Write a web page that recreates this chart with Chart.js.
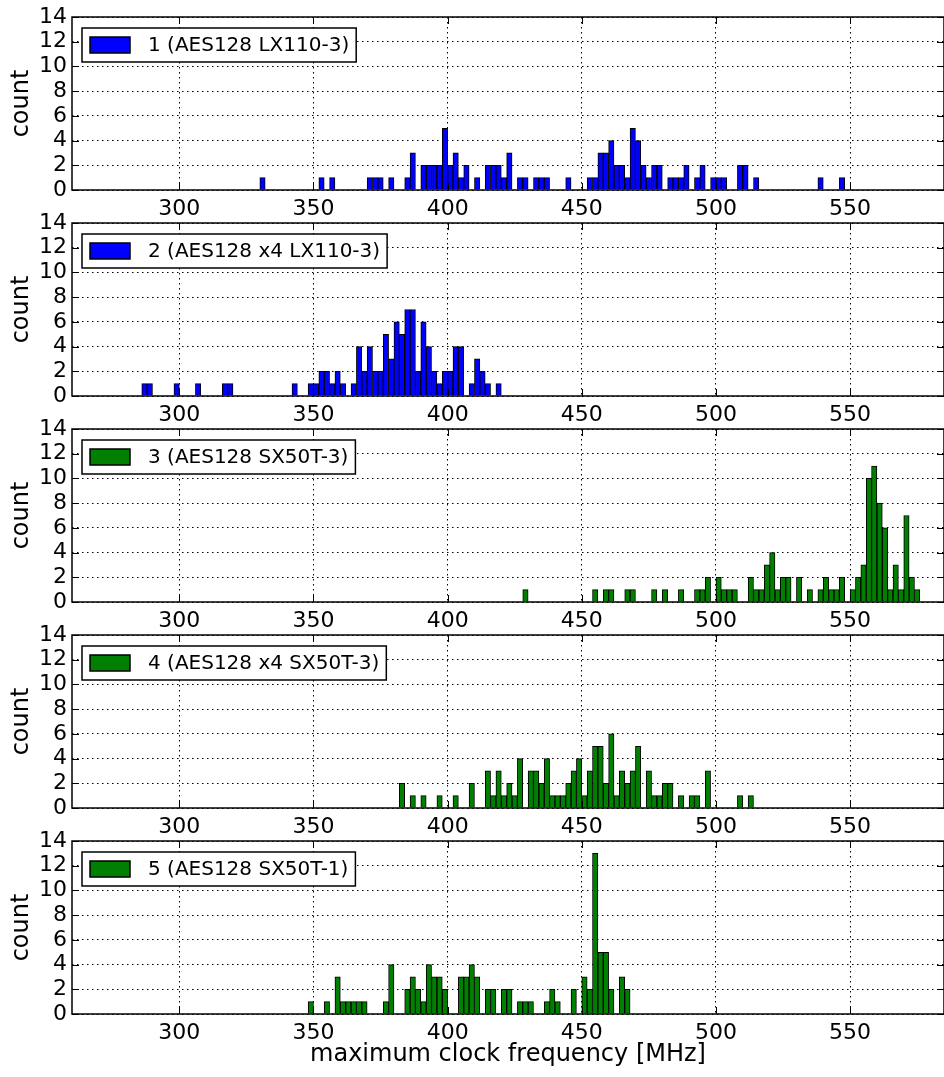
<!DOCTYPE html>
<html>
<head>
<meta charset="utf-8">
<script src="https://cdn.jsdelivr.net/npm/chart.js@4.4.1/dist/chart.umd.min.js"></script>
<style>
  html, body { margin: 0; padding: 0; background: #fff; }
  #wrap { position: relative; width: 944px; height: 1077px; overflow: hidden; }
  #wrap canvas { position: absolute; left: 0; }
</style>
</head>
<body>
<div id="wrap"></div>
<script>
// 2 MHz histogram bins: bin centre (MHz) and count, empty bins left out
const labels = [
  '1 (AES128 LX110-3)',
  '2 (AES128 x4 LX110-3)',
  '3 (AES128 SX50T-3)',
  '4 (AES128 x4 SX50T-3)',
  '5 (AES128 SX50T-1)'
];

const freq1 = [331, 353, 357, 371, 373, 375, 379, 385, 387, 391, 393, 395, 397, 399, 401, 403, 405, 407, 411, 415, 417, 419, 421, 423, 427, 429, 433, 435, 437,
  445, 453, 455, 457, 459, 461, 463, 465, 467, 469, 471, 473, 475, 477, 479, 483, 485, 487, 489, 493, 495, 499, 501, 503, 509, 511, 515, 539, 547];
const count1 = [1, 1, 1, 1, 1, 1, 1, 1, 3, 2, 2, 2, 2, 5, 2, 3, 1, 2, 1, 2, 2, 2, 1, 3, 1, 1, 1, 1, 1,
  1, 1, 1, 3, 3, 4, 2, 2, 1, 5, 4, 2, 1, 2, 2, 1, 1, 1, 2, 1, 2, 1, 1, 1, 2, 2, 1, 1, 1];

const freq2 = [287, 289, 299, 307, 317, 319, 343, 349, 351, 353, 355, 357, 359, 361, 365, 367, 369, 371, 373, 375, 377, 379, 381, 383, 385, 387,
  389, 391, 393, 395, 397, 399, 401, 403, 405, 409, 411, 413, 415, 419];
const count2 = [1, 1, 1, 1, 1, 1, 1, 1, 1, 2, 2, 1, 2, 1, 1, 4, 2, 4, 2, 2, 5, 3, 6, 5, 7, 7,
  2, 6, 4, 2, 1, 2, 2, 4, 4, 1, 3, 2, 1, 1];

const freq3 = [429, 455, 459, 461, 467, 469, 477, 481, 487, 493, 495, 497, 501, 503, 505, 507, 513, 515, 517, 519, 521, 523, 525, 527, 531, 535,
  539, 541, 543, 545, 547, 551, 553, 555, 557, 559, 561, 563, 565, 567, 569, 571, 573, 575];
const count3 = [1, 1, 1, 1, 1, 1, 1, 1, 1, 1, 1, 2, 2, 1, 1, 1, 2, 1, 1, 3, 4, 1, 2, 2, 2, 1,
  1, 2, 1, 1, 2, 1, 2, 3, 10, 11, 8, 6, 1, 3, 1, 7, 2, 1];

const freq4 = [383, 387, 391, 397, 403, 409, 415, 417, 419, 421, 423, 425, 427, 431, 433, 435, 437, 439, 441, 443, 445, 447, 449, 451, 453, 455,
  457, 459, 461, 463, 465, 467, 469, 471, 475, 477, 479, 481, 483, 487, 491, 493, 497, 509, 513];
const count4 = [2, 1, 1, 1, 1, 2, 3, 1, 3, 1, 2, 1, 4, 3, 3, 2, 4, 1, 1, 1, 2, 3, 4, 1, 3, 5,
  5, 2, 6, 1, 3, 2, 3, 5, 3, 1, 1, 2, 2, 1, 1, 1, 3, 1, 1];

const freq5 = [349, 355, 359, 361, 363, 365, 367, 369, 377, 379, 385, 387, 389, 391, 393, 395, 397, 399, 405, 407, 409, 411, 415, 417, 421, 423,
  427, 429, 431, 437, 439, 441, 447, 451, 453, 455, 457, 459, 461, 465, 467];
const count5 = [1, 1, 3, 1, 1, 1, 1, 1, 1, 4, 2, 3, 2, 1, 4, 3, 3, 2, 3, 3, 4, 3, 2, 2, 2, 2,
  1, 1, 1, 1, 2, 1, 2, 3, 2, 13, 5, 5, 2, 3, 2];

const xTicks = [300, 350, 400, 450, 500, 550];
const yTicks = [0, 2, 4, 6, 8, 10, 12, 14];

const panels = [
  { freq: freq1, count: count1, color: '#0000ff' },
  { freq: freq2, count: count2, color: '#0000ff' },
  { freq: freq3, count: count3, color: '#008000' },
  { freq: freq4, count: count4, color: '#008000' },
  { freq: freq5, count: count5, color: '#008000' }
];

Chart.defaults.font.family = '"DejaVu Sans", sans-serif';
Chart.defaults.color = '#000';

// matplotlib-like frame, inward ticks on all sides and boxed legend
const framePlugin = {
  id: 'frame',
  afterDraw(chart) {
    const { ctx, chartArea: a, scales: { x, y } } = chart;
    ctx.save();
    ctx.strokeStyle = '#000';
    ctx.lineWidth = 1;
    ctx.beginPath();
    xTicks.forEach(v => {
      const px = Math.round(x.getPixelForValue(v)) + 0.5;
      ctx.moveTo(px, a.bottom); ctx.lineTo(px, a.bottom - 7);
      ctx.moveTo(px, a.top); ctx.lineTo(px, a.top + 7);
    });
    yTicks.forEach(v => {
      const py = Math.round(y.getPixelForValue(v)) + 0.5;
      ctx.moveTo(a.left, py); ctx.lineTo(a.left + 7, py);
      ctx.moveTo(a.right, py); ctx.lineTo(a.right - 7, py);
    });
    ctx.stroke();
    ctx.lineWidth = 1.5;
    ctx.strokeRect(a.left, a.top, a.right - a.left, a.bottom - a.top);

    // legend
    const ds = chart.data.datasets[0];
    ctx.font = '20px "DejaVu Sans"';
    const tw = ctx.measureText(ds.label).width;
    const lx = a.left + 10, ly = a.top + 11, lh = 34;
    const lw = 66 + tw + 7;
    ctx.fillStyle = '#fff';
    ctx.fillRect(lx, ly, lw, lh);
    ctx.strokeRect(lx, ly, lw, lh);
    const cy = ly + lh / 2;
    ctx.fillStyle = ds.backgroundColor;
    ctx.fillRect(lx + 8, cy - 8, 40, 16);
    ctx.strokeRect(lx + 8, cy - 8, 40, 16);
    ctx.fillStyle = '#000';
    ctx.textBaseline = 'middle';
    ctx.textAlign = 'left';
    ctx.fillText(ds.label, lx + 66, cy + 1);
    ctx.restore();
  }
};

const wrap = document.getElementById('wrap');
panels.forEach((p, k) => {
  const last = k === panels.length - 1;
  const h = last ? 253 : 240;
  const cv = document.createElement('canvas');
  cv.width = 944;
  cv.height = h;
  cv.style.top = (206 * k) + 'px';
  wrap.appendChild(cv);

  new Chart(cv, {
    type: 'bar',
    data: {
      datasets: [{
        label: labels[k],
        data: p.freq.map((f, i) => ({ x: f, y: p.count[i] })),
        backgroundColor: p.color,
        borderColor: '#000',
        borderWidth: 1,
        barPercentage: 1,
        categoryPercentage: 1
      }]
    },
    options: {
      responsive: false,
      animation: false,
      events: [],
      layout: { padding: { top: 17, left: 0, right: 0, bottom: 0 } },
      plugins: { legend: { display: false }, tooltip: { enabled: false } },
      scales: {
        x: {
          type: 'linear',
          min: 260,
          max: 585,
          offset: false,
          afterBuildTicks: s => { s.ticks = xTicks.map(v => ({ value: v })); },
          afterFit: s => { s.height = h - 190; },
          grid: { color: '#000', lineWidth: 1, drawTicks: false, offset: false },
          border: { display: false, dash: [1.5, 3.5] },
          ticks: { padding: 6, font: { size: 22 }, maxRotation: 0, autoSkip: false },
          title: {
            display: last,
            text: 'maximum clock frequency [MHz]',
            font: { size: 24, lineHeight: 1.2 },
            padding: { top: 0, bottom: 8 }
          }
        },
        y: {
          min: 0,
          max: 14,
          afterBuildTicks: s => { s.ticks = yTicks.map(v => ({ value: v })); },
          afterFit: s => { s.width = 72; },
          grid: { color: '#000', lineWidth: 1, drawTicks: false },
          border: { display: false, dash: [1.5, 3.5] },
          ticks: { padding: 5, font: { size: 22, lineHeight: 0.9 }, autoSkip: false },
          title: {
            display: true,
            text: 'count',
            font: { size: 24, lineHeight: 1.2 },
            padding: { top: 7, bottom: 0 }
          }
        }
      }
    },
    plugins: [framePlugin]
  });
});
</script>
</body>
</html>
